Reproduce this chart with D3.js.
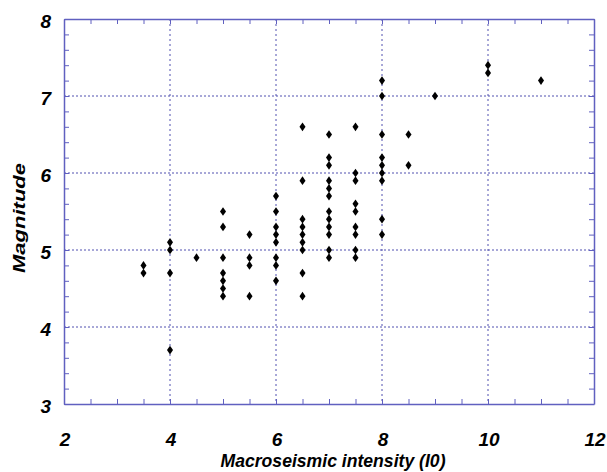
<!DOCTYPE html>
<html>
<head>
<meta charset="utf-8">
<script src="https://cdn.jsdelivr.net/npm/d3@7"></script>
<style>
  body { margin: 0; background: #fff; }
  svg text { font-family: "Liberation Sans", Arial, sans-serif; font-weight: bold; font-style: italic; fill: #000; }
</style>
</head>
<body>
<svg id="chart" width="607" height="472"></svg>
<script>
const intensity = [3.5, 4, 4.5, 5, 5.5, 6, 6.5, 7, 7.5, 8, 8.5, 9, 10, 11]
const magnitudes = [
  [4.8, 4.7],
  [5.1, 5.0, 4.7, 3.7],
  [4.9],
  [5.5, 5.3, 4.9, 4.7, 4.6, 4.5, 4.4],
  [5.2, 4.9, 4.8, 4.4],
  [5.7, 5.5, 5.3, 5.2, 5.1, 4.9, 4.8, 4.6],
  [6.6, 5.9, 5.4, 5.3, 5.2, 5.1, 5.0, 4.7, 4.4],
  [6.5, 6.2, 6.1, 5.9, 5.8, 5.7, 5.5, 5.4, 5.3, 5.2, 5.0, 4.9],
  [6.6, 6.0, 5.9, 5.6, 5.5, 5.3, 5.2, 5.0, 4.9],
  [7.2, 7.0, 6.5, 6.2, 6.1, 6.0, 5.9, 5.4, 5.2],
  [6.5, 6.1],
  [7.0],
  [7.4, 7.3],
  [7.2]
]
const xTicks = [2, 4, 6, 8, 10, 12]
const yTicks = [3, 4, 5, 6, 7, 8]
const xLabel = "Macroseismic intensity (I0)"
const yLabel = "Magnitude"

const svg = d3.select("#chart")
const plotL = 64, plotR = 594, plotT = 19, plotB = 404
const frameColor = "#6060c0"
const gridColor = "#5050b0"

const x = d3.scaleLinear().domain([2, 12]).range([plotL, plotR])
const y = d3.scaleLinear().domain([3, 8]).range([plotB, plotT])

const xMinor = d3.range(2, 12.01, 0.5)
const yMinor = d3.range(3, 8.01, 0.2)

// grid
svg.append("g").selectAll("line")
  .data(xTicks.slice(1, -1))
  .join("line")
    .attr("x1", d => x(d)).attr("x2", d => x(d))
    .attr("y1", plotT).attr("y2", plotB)
    .attr("stroke", gridColor)
    .attr("stroke-width", 1)
    .attr("stroke-dasharray", "2,3")

svg.append("g").selectAll("line")
  .data(yTicks.slice(1, -1))
  .join("line")
    .attr("x1", plotL).attr("x2", plotR)
    .attr("y1", d => y(d)).attr("y2", d => y(d))
    .attr("stroke", gridColor)
    .attr("stroke-width", 1)
    .attr("stroke-dasharray", "2,2")

// axes: inward ticks on all four sides, no labels
function styleAxis(g) {
  g.selectAll("text").remove()
  g.select(".domain").attr("stroke", frameColor).attr("stroke-width", 1.5)
  g.selectAll(".tick line").attr("stroke", frameColor).attr("stroke-width", 1)
}
svg.append("g").attr("transform", `translate(0,${plotB})`)
  .call(d3.axisBottom(x).tickValues(xMinor).tickSizeInner(-5).tickSizeOuter(0)).call(styleAxis)
svg.append("g").attr("transform", `translate(0,${plotT})`)
  .call(d3.axisTop(x).tickValues(xMinor).tickSizeInner(-5).tickSizeOuter(0)).call(styleAxis)
svg.append("g").attr("transform", `translate(${plotL},0)`)
  .call(d3.axisLeft(y).tickValues(yMinor).tickSizeInner(-5).tickSizeOuter(0)).call(styleAxis)
svg.append("g").attr("transform", `translate(${plotR},0)`)
  .call(d3.axisRight(y).tickValues(yMinor).tickSizeInner(-5).tickSizeOuter(0)).call(styleAxis)

// tick labels
svg.append("g").selectAll("text")
  .data(xTicks)
  .join("text")
    .attr("x", d => x(d) + 1)
    .attr("y", 446)
    .attr("text-anchor", "middle")
    .attr("font-size", 19)
    .text(d => d)

svg.append("g").selectAll("text")
  .data(yTicks)
  .join("text")
    .attr("x", 51)
    .attr("y", d => y(d) + 2)
    .attr("dy", "0.36em")
    .attr("text-anchor", "end")
    .attr("font-size", 19)
    .text(d => d)

// axis titles
svg.append("text")
  .attr("x", 333)
  .attr("y", 467)
  .attr("text-anchor", "middle")
  .attr("font-size", 19)
  .attr("textLength", 225)
  .attr("lengthAdjust", "spacingAndGlyphs")
  .text(xLabel)

svg.append("text")
  .attr("transform", `translate(25,218) rotate(-90)`)
  .attr("text-anchor", "middle")
  .attr("font-size", 16)
  .attr("textLength", 110)
  .attr("lengthAdjust", "spacingAndGlyphs")
  .text(yLabel)

// points
const points = []
intensity.forEach((iv, i) => {
  magnitudes[i].forEach(m => points.push({ i: iv, m: m }))
})

const diamond = d3.symbol().type(d3.symbolDiamond).size(22)
svg.append("g").selectAll("path")
  .data(points)
  .join("path")
    .attr("d", diamond)
    .attr("transform", d => `translate(${x(d.i)},${y(d.m)}) scale(1.2,1)`)
    .attr("fill", "#000")
</script>
</body>
</html>
